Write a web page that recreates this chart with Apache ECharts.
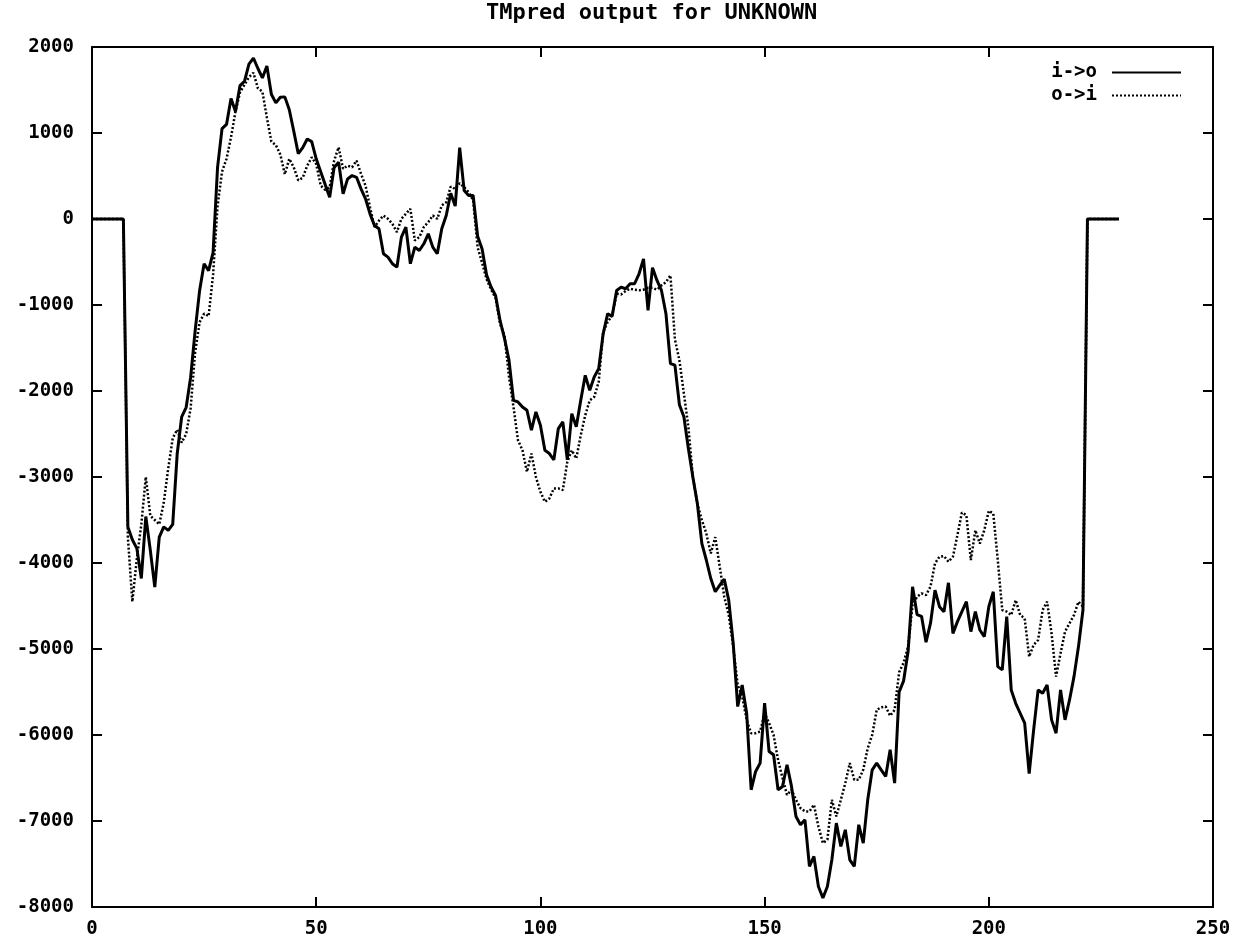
<!DOCTYPE html>
<html>
<head>
<meta charset="utf-8">
<script src="https://cdn.jsdelivr.net/npm/echarts@6/dist/echarts.min.js"></script>
<style>
html,body{margin:0;padding:0;background:#fff;}
#chart{width:1245px;height:943px;}
</style>
</head>
<body>
<div id="chart"></div>
<script>
// Chart title and series names
const chartTitle = 'TMpred output for UNKNOWN';
const seriesNames = ['i->o', 'o->i'];

// Axis ticks
const xTicks = [0, 50, 100, 150, 200, 250];
const yTicks = [-8000, -7000, -6000, -5000, -4000, -3000, -2000, -1000, 0, 1000, 2000];

// Scores per sequence position (position = index, starting at 0)
const inToOut = [
  0, 0, 0, 0, 0, 0, 0, 0, -3580, -3730,
  -3830, -4180, -3460, -3850, -4280, -3700, -3580, -3620, -3550, -2730,
  -2300, -2190, -1840, -1300, -830, -520, -600, -390, 600, 1050,
  1100, 1400, 1250, 1550, 1600, 1800, 1870, 1750, 1640, 1780,
  1450, 1350, 1415, 1420, 1270, 1020, 760, 830, 930, 900,
  700, 550, 400, 253, 600, 660, 292, 466, 505, 485,
  350, 234, 60, -75, -114, -404, -443, -520, -560, -211,
  -94, -520, -327, -366, -288, -172, -327, -404, -114, 40,
  300, 150, 830, 331, 273, 273, -200, -350, -650, -790,
  -890, -1180, -1390, -1643, -2108, -2127, -2186, -2224, -2456, -2243,
  -2398, -2689, -2727, -2800, -2437, -2360, -2800, -2263, -2417, -2108,
  -1818, -1992, -1837, -1740, -1334, -1101, -1132, -831, -792, -811,
  -753, -753, -637, -463, -1063, -567, -714, -831, -1101, -1682,
  -1700, -2160, -2300, -2670, -3000, -3307, -3772, -3965, -4180, -4334,
  -4257, -4187, -4431, -4934, -5669, -5418, -5747, -6637, -6424, -6327,
  -5630, -6192, -6230, -6637, -6598, -6346, -6598, -6947, -7044, -6986,
  -7528, -7412, -7761, -7896, -7761, -7451, -7025, -7296, -7102, -7451,
  -7528, -7044, -7257, -6754, -6405, -6327, -6405, -6482, -6172, -6560,
  -5500, -5370, -5030, -4276, -4600, -4620, -4920, -4700, -4315, -4508,
  -4566, -4230, -4818, -4682, -4566, -4450, -4798, -4566, -4779, -4856,
  -4508, -4334, -5205, -5243, -4624, -5476, -5631, -5747, -5863, -6450,
  -5940, -5476, -5515, -5418, -5824, -5979, -5476, -5824, -5592, -5321,
  -4972, -4547, 0, 0, 0, 0, 0, 0, 0, 0
];

const outToIn = [
  0, 0, 0, 0, 0, 0, 0, 0, -3700, -4450,
  -3950, -3550, -3000, -3450, -3500, -3550, -3300, -2900, -2550, -2450,
  -2600, -2500, -2200, -1550, -1200, -1100, -1130, -650, 150, 550,
  700, 950, 1250, 1470, 1560, 1650, 1700, 1520, 1480, 1180,
  900, 860, 750, 520, 700, 600, 450, 480, 620, 718,
  640, 389, 339, 370, 679, 834, 583, 621, 602, 679,
  525, 389, 137, -94, -19, 40, 2, -56, -152, 2,
  60, 118, -250, -211, -94, -36, 40, 2, 157, 195,
  377, 350, 416, 370, 312, 215, -330, -510, -700, -820,
  -920, -1218, -1353, -1837, -2185, -2572, -2689, -2940, -2727, -3000,
  -3172, -3288, -3249, -3133, -3133, -3152, -2824, -2689, -2785, -2514,
  -2282, -2108, -2069, -1895, -1314, -1198, -1121, -869, -877, -838,
  -811, -822, -830, -822, -800, -800, -822, -772, -734, -656,
  -1400, -1643, -2030, -2417, -3000, -3307, -3500, -3657, -3888, -3700,
  -4044, -4392, -4605, -4973, -5418, -5553, -5824, -5979, -5979, -5960,
  -5747, -5863, -5999, -6289, -6502, -6696, -6637, -6754, -6850, -6889,
  -6889, -6812, -7064, -7257, -7218, -6754, -6947, -6754, -6560, -6327,
  -6521, -6521, -6405, -6153, -5999, -5708, -5677, -5669, -5777, -5708,
  -5270, -5160, -4972, -4489, -4392, -4353, -4373, -4276, -4005, -3927,
  -3920, -3985, -3927, -3676, -3413, -3444, -3966, -3618, -3773, -3618,
  -3393, -3424, -3966, -4547, -4566, -4605, -4431, -4605, -4644, -5089,
  -4953, -4895, -4547, -4450, -4818, -5321, -5050, -4798, -4701, -4605,
  -4450, -4508, 0, 0, 0, 0, 0, 0, 0, 0
];

const FONT = 'DejaVu Sans Mono';
const chart = echarts.init(document.getElementById('chart'), null, {renderer: 'canvas'});

const xMin = xTicks[0], xMax = xTicks[xTicks.length - 1];
const yMin = yTicks[0], yMax = yTicks[yTicks.length - 1];
const xStep = xTicks[1] - xTicks[0];
const yStep = yTicks[1] - yTicks[0];

const labelStyle = {color: '#000', fontFamily: FONT, fontWeight: 'bold', fontSize: 19};
const lineBlack = {show: true, onZero: false, lineStyle: {color: '#000', width: 2}};
const tickIn = {show: true, inside: true, length: 10, lineStyle: {color: '#000', width: 2}};
const plain = v => String(v);

chart.setOption({
  animation: false,
  backgroundColor: '#fff',
  graphic: [{
    type: 'text',
    left: 652 - 166,
    top: 2,
    style: {
      text: chartTitle,
      fill: '#000',
      font: 'bold 22px "' + FONT + '"'
    }
  }],
  grid: {left: 92, right: 32, top: 47, bottom: 36, containLabel: false},
  legend: {
    orient: 'vertical',
    right: 58,
    top: 58,
    align: 'right',
    itemWidth: 69,
    itemHeight: 12,
    itemGap: 4,
    data: seriesNames,
    itemStyle: {color: 'rgba(0,0,0,0)', borderWidth: 0, opacity: 0},
    textStyle: Object.assign({}, labelStyle, {padding: [0, 10, 0, 0]})
  },
  xAxis: [{
    type: 'value', position: 'bottom', min: xMin, max: xMax, interval: xStep,
    axisLine: lineBlack, axisTick: tickIn, splitLine: {show: false},
    axisLabel: Object.assign({margin: 13, formatter: plain}, labelStyle)
  }, {
    type: 'value', position: 'top', min: xMin, max: xMax, interval: xStep,
    axisLine: lineBlack, axisTick: tickIn, splitLine: {show: false},
    axisLabel: {show: false}
  }],
  yAxis: [{
    type: 'value', position: 'left', min: yMin, max: yMax, interval: yStep,
    axisLine: lineBlack, axisTick: tickIn, splitLine: {show: false},
    axisLabel: Object.assign({margin: 18, formatter: plain}, labelStyle)
  }, {
    type: 'value', position: 'right', min: yMin, max: yMax, interval: yStep,
    axisLine: lineBlack, axisTick: tickIn, splitLine: {show: false},
    axisLabel: {show: false}
  }],
  series: [{
    name: seriesNames[0],
    type: 'line',
    symbol: 'none',
    xAxisIndex: 0, yAxisIndex: 0,
    lineStyle: {color: '#000', width: 3, type: 'solid'},
    itemStyle: {color: '#000'},
    data: inToOut.map((v, i) => [i, v]),
    z: 3
  }, {
    name: seriesNames[1],
    type: 'line',
    symbol: 'none',
    xAxisIndex: 0, yAxisIndex: 0,
    lineStyle: {color: '#000', width: 2.5, type: [2, 2]},
    itemStyle: {color: '#000'},
    data: outToIn.map((v, i) => [i, v]),
    z: 2
  }]
});
</script>
</body>
</html>
